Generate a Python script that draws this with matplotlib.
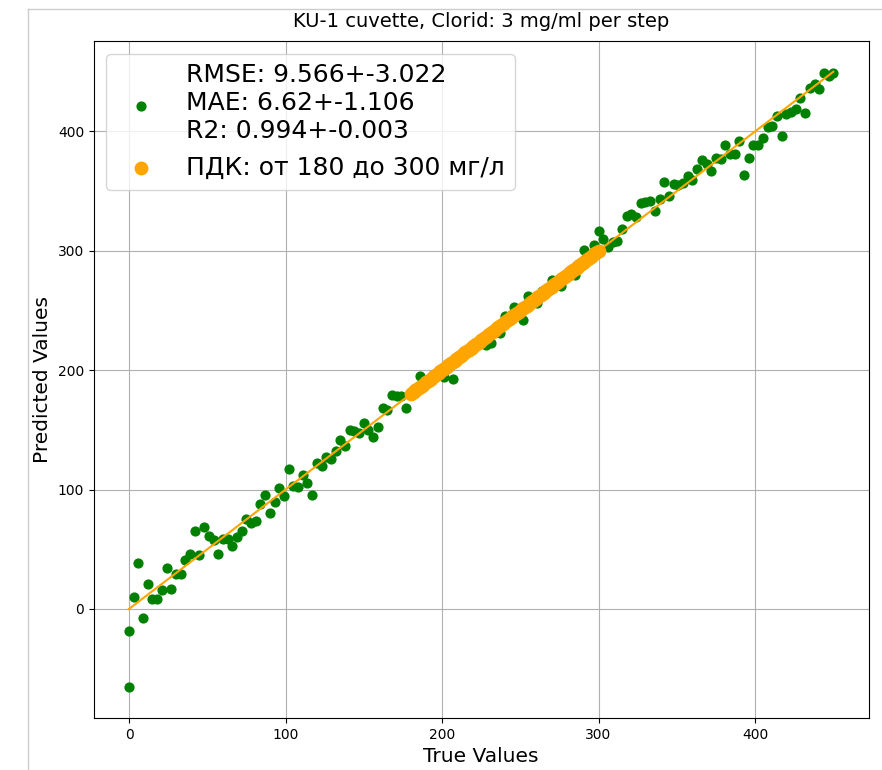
import numpy as np
import matplotlib.pyplot as plt
from matplotlib.lines import Line2D

# True concentration (mg/ml, 3 mg/ml per step) and model predictions
true_vals = [0, 0, 3, 6, 9, 12, 15, 18, 21, 24, 27, 30, 33, 36, 39, 42, 45, 48, 51, 54,
             57, 60, 63, 66, 69, 72, 75, 78, 81, 84, 87, 90, 93, 96, 99, 102, 105, 108,
             111, 114, 117, 120, 123, 126, 129, 132, 135, 138, 141, 144, 147, 150, 153,
             156, 159, 162, 165, 168, 171, 174, 177, 180, 183, 186, 189, 192, 195, 198,
             201, 204, 207, 210, 213, 216, 219, 222, 225, 228, 231, 234, 237, 240, 243,
             246, 249, 252, 255, 258, 261, 264, 267, 270, 273, 276, 279, 282, 285, 288,
             291, 294, 297, 300, 303, 306, 309, 312, 315, 318, 321, 324, 327, 330, 333,
             336, 339, 342, 345, 348, 351, 354, 357, 360, 363, 366, 369, 372, 375, 378,
             381, 384, 387, 390, 393, 396, 399, 402, 405, 408, 411, 414, 417, 420, 423,
             426, 429, 432, 435, 438, 441, 444, 447, 450]
pred_vals = [-18.6, -65.6, 10, 38.5, -7.7, 21.2, 8.6, 8.1, 15.5, 34.7, 17.1, 29.2, 29.5,
             41.2, 45.9, 65.3, 44.9, 68.3, 61, 58, 45.8, 58.3, 58.8, 53, 60.5, 65, 75.2,
             71.7, 73.6, 88.3, 95.8, 80.6, 89.2, 101.6, 94.2, 117.5, 102.8, 102.3, 112,
             105.8, 95.3, 122.5, 119.7, 126.9, 125.8, 132, 141.7, 136.4, 150, 149.4,
             147.2, 155.6, 150.3, 144.4, 152.8, 168.3, 166.9, 179.2, 178.1, 178.1, 168,
             181, 184, 195.3, 190, 193, 196, 197, 194.4, 205, 192.5, 211, 212, 217, 220,
             221, 226, 221, 222.5, 235, 231.4, 245.8, 242, 253, 250, 241.9, 262.5, 257,
             256.4, 266, 268, 275.8, 274, 270.3, 280, 283, 280, 290, 300.8, 295, 305,
             317, 309.8, 303, 307, 308.6, 318, 329, 331, 328.6, 339.7, 341, 342, 333.6,
             343, 357.8, 346, 355.8, 355, 356.4, 362.5, 359.5, 368.5, 376.4, 373, 367,
             378, 377.2, 388.3, 381.4, 381.4, 391.9, 363.3, 377.8, 388.9, 388.9, 394.7,
             403.6, 404.2, 412.8, 396, 414.7, 416.7, 418.6, 427.8, 415.3, 436, 439.7,
             435.6, 448.6, 446.7, 448.6]

# PDK range (180..300 mg/l) drawn on the ideal line
pdk_vals = [180, 181, 182, 183, 184, 185, 186, 187, 188, 189, 190, 191, 192, 193, 194,
            195, 196, 197, 198, 199, 200, 201, 202, 203, 204, 205, 206, 207, 208, 209,
            210, 211, 212, 213, 214, 215, 216, 217, 218, 219, 220, 221, 222, 223, 224,
            225, 226, 227, 228, 229, 230, 231, 232, 233, 234, 235, 236, 237, 238, 239,
            240, 241, 242, 243, 244, 245, 246, 247, 248, 249, 250, 251, 252, 253, 254,
            255, 256, 257, 258, 259, 260, 261, 262, 263, 264, 265, 266, 267, 268, 269,
            270, 271, 272, 273, 274, 275, 276, 277, 278, 279, 280, 281, 282, 283, 284,
            285, 286, 287, 288, 289, 290, 291, 292, 293, 294, 295, 296, 297, 298, 299,
            300]

ideal = [0, 450]

metrics_label = "RMSE: 9.566+-3.022\nMAE: 6.62+-1.106\nR2: 0.994+-0.003"
pdk_label = "ПДК: от 180 до 300 мг/л"

fig = plt.figure(figsize=(8.82, 7.7), dpi=100)
ax = fig.add_axes([93.8 / 882, 1 - 718 / 770, (868.5 - 93.8) / 882, (718 - 41) / 770])

ax.scatter(true_vals, pred_vals, c='green', s=40, label=metrics_label)
ax.scatter(pdk_vals, pdk_vals, c='orange', s=80, label=pdk_label)
ax.plot(ideal, ideal, color='orange', lw=1.5)

ax.set_title("KU-1 cuvette, Clorid: 3 mg/ml per step", fontsize=14, pad=10)
ax.set_xlabel("True Values", fontsize=14.5)
ax.set_ylabel("Predicted Values", fontsize=14.5)
ax.tick_params(labelsize=10)
ax.set_xticks([0, 100, 200, 300, 400])
ax.set_yticks([0, 100, 200, 300, 400])
ax.grid(True)
ax.set_axisbelow(True)
ax.legend(loc='upper left', fontsize=18)

# thin frame of the screenshot
fig.add_artist(Line2D([27.5 / 882, 27.5 / 882], [0, 1 - 8.5 / 770], color='#cccccc', lw=1))
fig.add_artist(Line2D([27.5 / 882, 1], [1 - 8.5 / 770, 1 - 8.5 / 770], color='#cccccc', lw=1))

fig.savefig('out.png', dpi=100)
